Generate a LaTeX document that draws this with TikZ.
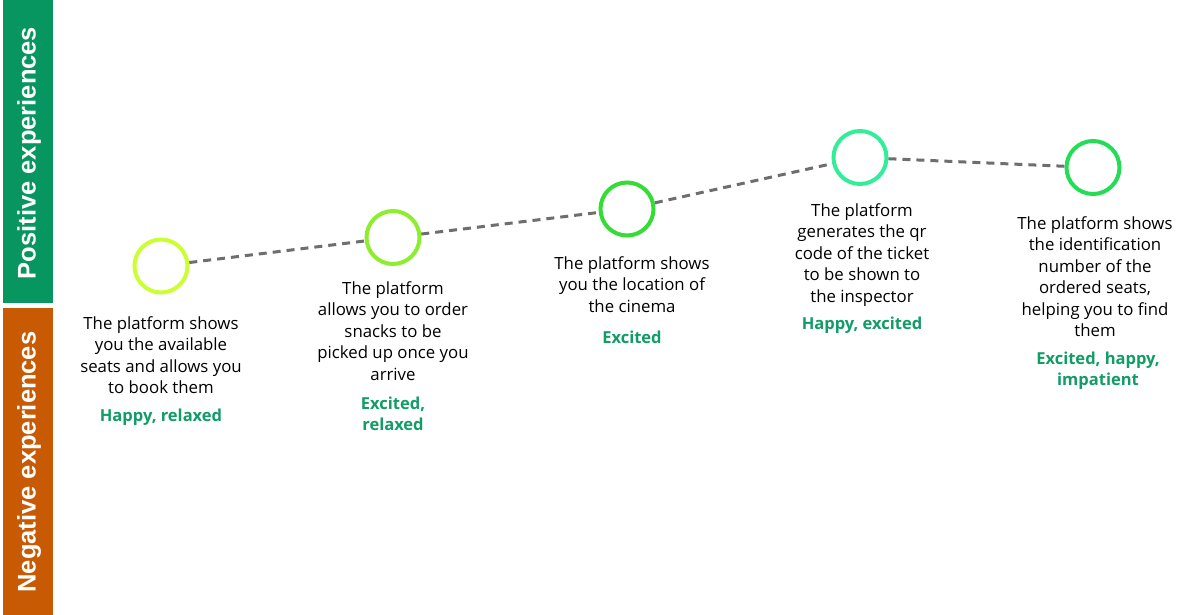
\documentclass[tikz,border=0pt]{standalone}
\usepackage{fontspec}
\setmainfont{Open Sans}
\newfontfamily\barfont{Liberation Sans}
\definecolor{bargreen}{HTML}{07965F}
\definecolor{barorange}{HTML}{C85A04}
\definecolor{emogreen}{HTML}{129C66}
\definecolor{dashgray}{HTML}{6E6E6E}
\definecolor{cA}{HTML}{CCFF33}
\definecolor{cB}{HTML}{8CEE2E}
\definecolor{cC}{HTML}{33DD33}
\definecolor{cD}{HTML}{33EE99}
\definecolor{cE}{HTML}{22DD55}
\tikzset{
  stage/.style={circle, draw=#1, line width=4pt, minimum size=53pt, inner sep=0pt, fill=white},
  desc/.style={align=center, font=\fontsize{16.8pt}{21.4pt}\selectfont, text=black, inner sep=0pt, anchor=north},
  emo/.style={align=center, font=\fontsize{16.5pt}{21pt}\selectfont\bfseries, text=emogreen, inner sep=0pt, anchor=north},
  link/.style={draw=dashgray, line width=3pt, dash pattern=on 8pt off 6pt},
  bartext/.style={rotate=90, text=white, font=\barfont\fontsize{25.5pt}{25.5pt}\selectfont\bfseries}
}
\begin{document}
\begin{tikzpicture}[x=1pt,y=-1pt]
\useasboundingbox (0,0) rectangle (1200,615);
\fill[white] (0,0) rectangle (1200,615);
% side bars
\fill[bargreen] (3,0) rectangle (53,303);
\fill[barorange] (3,308) rectangle (53,615);
\node[bartext] (pos) at (29,153) {Positive experiences};
\node[bartext] (neg) at (29,462) {Negative experiences};
% stages
\node[stage=cA] (s1) at (161,266) {};
\node[stage=cB] (s2) at (393,237.5) {};
\node[stage=cC] (s3) at (627,209) {};
\node[stage=cD] (s4) at (860,157.5) {};
\node[stage=cE] (s5) at (1093,167.5) {};
% links
\draw[link] (s1) -- (s2);
\draw[link] (s2) -- (s3);
\draw[link] (s3) -- (s4);
\draw[link] (s4) -- (s5);
% descriptions
\node[desc] (d1) at (161,316.5) {The platform shows\\you the available\\seats and allows you\\to book them};
\node[emo] (e1) at (161,408.5) {Happy, relaxed};
\node[desc] (d2) at (393,281.5) {The platform\\allows you to order\\snacks to be\\picked up once you\\arrive};
\node[emo] (e2) at (393,396.5) {Excited,\\relaxed};
\node[desc] (d3) at (632,256.5) {The platform shows\\you the location of\\the cinema};
\node[emo] (e3) at (632,330.5) {Excited};
\node[desc] (d4) at (862,203.5) {The platform\\generates the qr\\code of the ticket\\to be shown to\\the inspector};
\node[emo] (e4) at (862,316.5) {Happy, excited};
\node[desc] (d5) at (1095,216.5) {The platform shows\\the identification\\number of the\\ordered seats,\\helping you to find\\them};
\node[emo] (e5) at (1098,351.5) {Excited, happy,\\impatient};
\end{tikzpicture}
\end{document}
